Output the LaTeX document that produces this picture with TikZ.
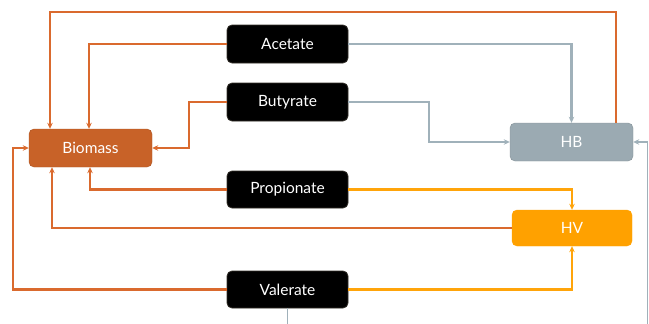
\documentclass[tikz,border=0pt]{standalone}
\usepackage{fontspec}
\setmainfont{Lato}
\usetikzlibrary{arrows.meta,calc}
\definecolor{bioc}{RGB}{200,98,40}
\definecolor{orl}{RGB}{218,106,46}
\definecolor{hbc}{RGB}{155,170,178}
\definecolor{grl}{RGB}{160,177,186}
\definecolor{hvc}{RGB}{255,161,0}
\definecolor{hvl}{RGB}{255,164,10}
\tikzset{
  box/.style={rectangle,rounded corners=5pt,minimum width=121pt,minimum height=38pt,
    font=\fontsize{15.5}{18}\selectfont,text=white,inner sep=0pt},
  acid/.style={box,fill=black,draw=black!85!olive,line width=0.8pt},
  tip/.style={-{Stealth[length=6pt,width=5.5pt]}},
  oline/.style={tip,draw=orl,line width=2.2pt},
  gline/.style={tip,draw=grl,line width=2.2pt},
  yline/.style={tip,draw=hvl,line width=2.2pt},
  thing/.style={tip,draw=grl,line width=1.2pt}
}
\begin{document}
\begin{tikzpicture}[x=1pt,y=-1pt]
\useasboundingbox (0,0) rectangle (649,324);
\node[box,fill=bioc,draw=bioc!85!black,minimum width=123pt] (bio) at (90.5,148) {Biomass};
\node[acid] (ace) at (287.5,44) {Acetate};
\node[acid] (but) at (287.5,102) {Butyrate};
\node[acid,minimum height=37pt] (pro) at (287.5,189.5) {Propionate};
\node[acid,minimum height=37pt] (val) at (287.5,289.5) {Valerate};
\node[box,fill=hbc,draw=hbc!85!black,minimum width=123pt] (hb) at (571.5,142) {HB};
\node[box,fill=hvc,draw=hvc,minimum width=120pt,minimum height=36pt] (hv) at (572,228) {HV};
% orange to biomass
\draw[oline] ([xshift=44.5pt]hb.north) |- (50,12) -- ([xshift=-40.5pt]bio.north);
\draw[oline] (ace.west) -| ([xshift=-1.5pt]bio.north);
\draw[oline] (but.west) -| ($(bio.east)+(37,0)$) -- (bio.east);
\draw[oline] (pro.west) -| ([xshift=-0.5pt]bio.south);
\draw[oline] (hv.west) -| ([xshift=-38.5pt]bio.south);
\draw[oline] (val.west) -| ($(bio.west)+(-16,0)$) -- (bio.west);
% grey to HB
\draw[gline] (ace.east) -| (hb.north);
\draw[gline] (but.east) -| ($(hb.west)+(-81,0)$) -- (hb.west);
\draw[thing] (val.south) |- (647.5,324.6) |- (hb.east);
% yellow to HV
\draw[yline] (pro.east) -| (hv.north);
\draw[yline] (val.east) -| (hv.south);
\end{tikzpicture}
\end{document}
